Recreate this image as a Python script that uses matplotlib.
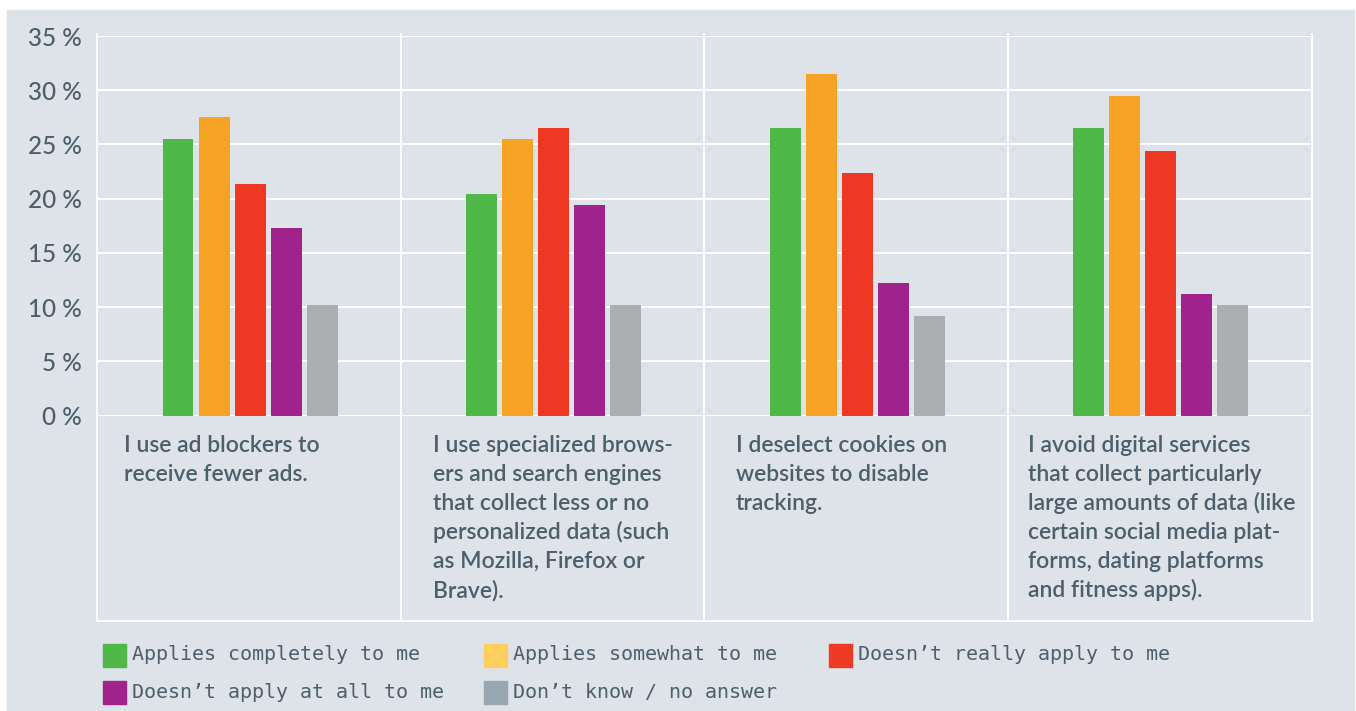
import matplotlib.pyplot as plt
import matplotlib.transforms as mtransforms
from matplotlib.patches import Rectangle
import numpy as np

# data
statements = [
    "I use ad blockers to\nreceive fewer ads.",
    "I use specialized brows-\ners and search engines\nthat collect less or no\npersonalized data (such\nas Mozilla, Firefox or\nBrave).",
    "I deselect cookies on\nwebsites to disable\ntracking.",
    "I avoid digital services\nthat collect particularly\nlarge amounts of data (like\ncertain social media plat-\nforms, dating platforms\nand fitness apps).",
]
answers = ["Applies completely to me", "Applies somewhat to me",
           "Doesn\u2019t really apply to me", "Doesn\u2019t apply at all to me",
           "Don\u2019t know / no answer"]
completely = [25.5, 20.4, 26.5, 26.5]
somewhat = [27.5, 25.5, 31.5, 29.5]
not_really = [21.4, 26.5, 22.4, 24.4]
not_at_all = [17.3, 19.4, 12.2, 11.2]
dont_know = [10.2, 10.2, 9.2, 10.2]
series = [completely, somewhat, not_really, not_at_all, dont_know]
yticks = [0, 5, 10, 15, 20, 25, 30, 35]

bar_colors = ["#4fb848", "#f7a325", "#ee3823", "#a0238b", "#adaeb2"]
legend_colors = ["#4fb848", "#fece5f", "#ee3a24", "#a0228b", "#99a7b0"]
bg = "#dee2e9"
txt = "#4c5f6b"

W, H = 1356, 711
fig = plt.figure(figsize=(W / 100, H / 100), dpi=100, facecolor="white")
fig.patches.append(Rectangle((7 / W, 0), 1347 / W, 1 - 10 / H,
                             transform=fig.transFigure, color=bg, zorder=-10))

ax = fig.add_axes([97 / W, 1 - 415.7 / H, (1311.5 - 97) / W, (415.7 - 36) / H])
ax.set_facecolor(bg)
ax.patch.set_alpha(0)
for s in ax.spines.values():
    s.set_visible(False)

x = np.arange(len(statements))
step, width = 0.1186, 0.102
for i, vals in enumerate(series):
    ax.bar(x + (i - 2) * step + 0.004, vals, width, color=bar_colors[i], zorder=3)

ax.set_xlim(-0.5, 3.5)
ax.set_ylim(0, 35)
ax.set_yticks(yticks)
ax.set_yticklabels([f"{t} %" for t in yticks], fontfamily="Lato",
                   fontsize=17.5, fontweight="medium", color=txt)
ax.tick_params(axis="y", length=0, pad=11)
ax.set_xticks([])
ax.yaxis.grid(True, color="white", lw=1.5, zorder=1)

# table-like dividers below the plot
trans = mtransforms.blended_transform_factory(ax.transData, ax.transAxes)
ax_h = 415.7 - 36
bottom = (415.7 - 621) / ax_h
top = (415.7 - 34) / ax_h
for b in np.arange(-0.5, 4, 1):
    ax.plot([b, b], [bottom, top], color="white", lw=1.5, transform=trans,
            clip_on=False, zorder=2)
ax.plot([-0.5, 3.5], [bottom, bottom], color="white", lw=1.5,
        transform=trans, clip_on=False, zorder=2)

# statements
label_x = [124, 433, 736, 1028]
for lx, s in zip(label_x, statements):
    for k, line in enumerate(s.split("\n")):
        fig.text(lx / W, 1 - (452 + 29 * k) / H, line, fontfamily="Lato",
                 fontsize=16.5, fontweight="semibold", color=txt,
                 va="baseline", ha="left")

# legend
leg_pos = [(103, 655), (484, 655), (829, 655), (103, 692), (484, 692)]
for (lx, ly), lab, c in zip(leg_pos, answers, legend_colors):
    fig.patches.append(Rectangle((lx / W, 1 - (ly + 11.5) / H), 23 / W, 23 / H,
                                 transform=fig.transFigure, color=c))
    fig.text((lx + 29) / W, 1 - ly / H, lab, fontfamily="DejaVu Sans Mono",
             fontsize=14.4, color=txt, va="center", ha="left")

fig.savefig("out.png", dpi=100, facecolor="white")
